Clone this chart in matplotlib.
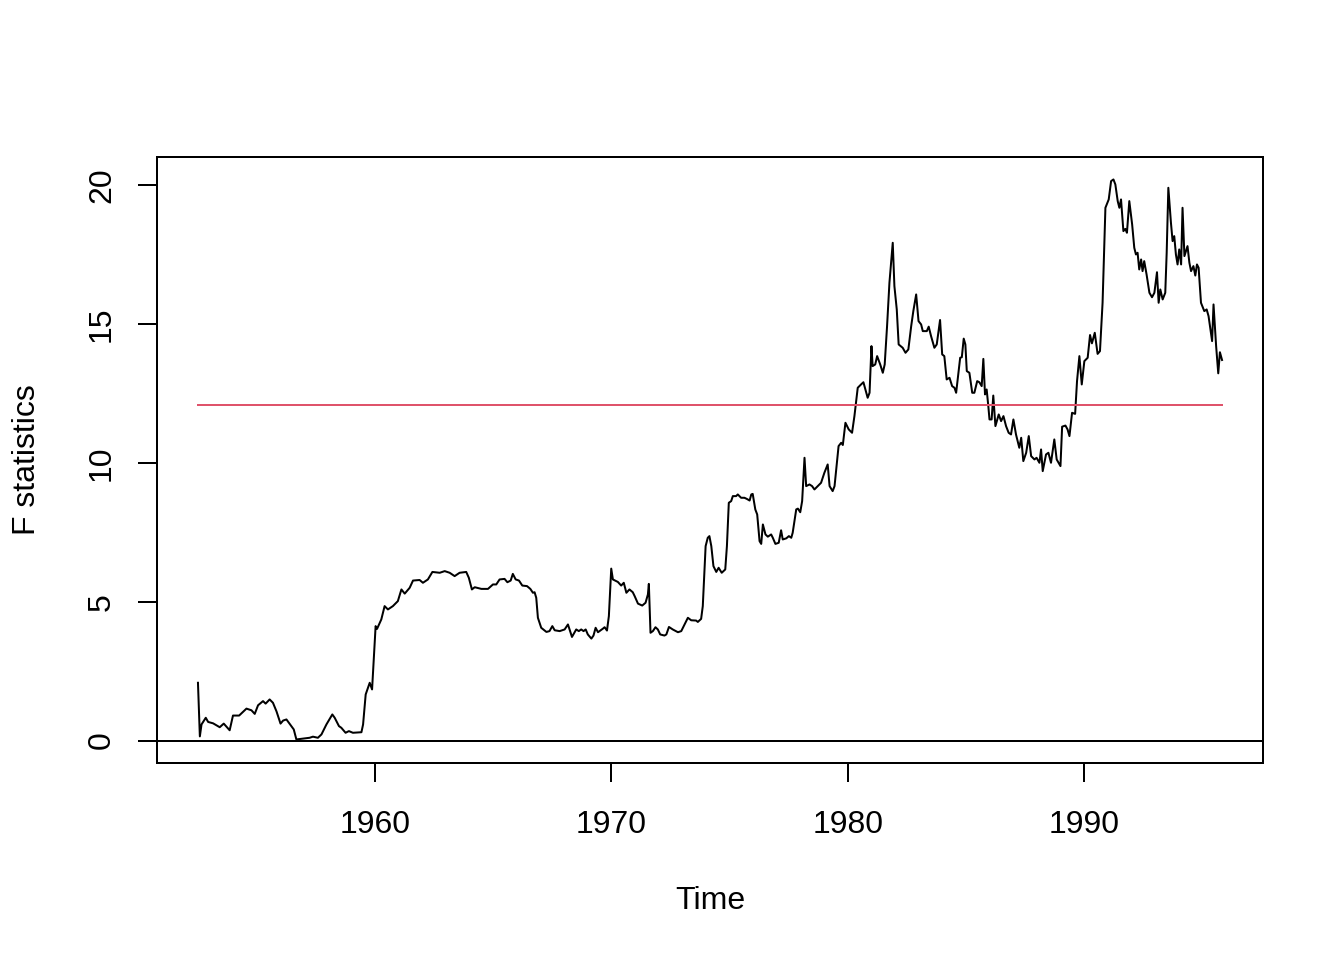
"""
F statistics over time with critical value line (R-style base plot)
"""
import matplotlib
matplotlib.use("Agg")
import matplotlib.pyplot as plt
import numpy as np

plt.rcParams['font.family'] = ['Liberation Sans', 'DejaVu Sans']

# time (decimal year) and F statistic
time = [
    1952.53, 1952.61, 1952.68, 1952.86, 1952.96, 1953.17, 1953.45, 1953.62, 1953.87, 1954.01,
    1954.27, 1954.58, 1954.79, 1954.93, 1955.07, 1955.28, 1955.39, 1955.56, 1955.70, 1955.85,
    1956.02, 1956.13, 1956.27, 1956.41, 1956.58, 1956.69, 1956.97, 1957.25, 1957.39, 1957.60,
    1957.75, 1957.96, 1958.21, 1958.31, 1958.49, 1958.59, 1958.77, 1958.91, 1959.08, 1959.44,
    1959.51, 1959.62, 1959.79, 1959.89, 1960.04, 1960.10, 1960.28, 1960.42, 1960.56, 1960.77,
    1960.98, 1961.13, 1961.27, 1961.48, 1961.62, 1961.90, 1962.04, 1962.25, 1962.44, 1962.75,
    1962.96, 1963.17, 1963.38, 1963.59, 1963.87, 1963.98, 1964.11, 1964.23, 1964.51, 1964.79,
    1965.00, 1965.14, 1965.28, 1965.49, 1965.61, 1965.75, 1965.84, 1965.96, 1966.10, 1966.24,
    1966.44, 1966.58, 1966.69, 1966.76, 1966.83, 1966.90, 1967.04, 1967.26, 1967.39, 1967.51,
    1967.61, 1967.82, 1968.03, 1968.17, 1968.34, 1968.45, 1968.52, 1968.63, 1968.73, 1968.83,
    1968.92, 1969.01, 1969.16, 1969.25, 1969.34, 1969.44, 1969.65, 1969.72, 1969.82, 1969.90,
    1970.00, 1970.07, 1970.28, 1970.42, 1970.53, 1970.64, 1970.77, 1970.91, 1970.99, 1971.13,
    1971.31, 1971.45, 1971.55, 1971.59, 1971.66, 1971.76, 1971.87, 1971.97, 1972.07, 1972.25,
    1972.33, 1972.44, 1972.60, 1972.82, 1972.96, 1973.10, 1973.24, 1973.38, 1973.59, 1973.66,
    1973.80, 1973.87, 1973.99, 1974.08, 1974.15, 1974.23, 1974.32, 1974.44, 1974.54, 1974.67,
    1974.82, 1974.89, 1974.97, 1975.07, 1975.14, 1975.28, 1975.35, 1975.49, 1975.63, 1975.73,
    1975.85, 1975.92, 1975.98, 1976.09, 1976.17, 1976.27, 1976.34, 1976.41, 1976.52, 1976.62,
    1976.76, 1976.83, 1976.94, 1977.08, 1977.18, 1977.25, 1977.40, 1977.51, 1977.61, 1977.67,
    1977.82, 1977.89, 1977.99, 1978.07, 1978.17, 1978.24, 1978.38, 1978.49, 1978.59, 1978.73,
    1978.87, 1979.01, 1979.15, 1979.23, 1979.36, 1979.44, 1979.61, 1979.72, 1979.79, 1979.90,
    1980.04, 1980.18, 1980.28, 1980.42, 1980.56, 1980.66, 1980.84, 1980.92, 1981.00, 1981.05,
    1981.16, 1981.24, 1981.37, 1981.48, 1981.56, 1981.66, 1981.76, 1981.90, 1981.97, 1982.07,
    1982.15, 1982.32, 1982.44, 1982.56, 1982.68, 1982.77, 1982.89, 1982.99, 1983.10, 1983.17,
    1983.34, 1983.42, 1983.52, 1983.66, 1983.76, 1983.90, 1983.99, 1984.08, 1984.18, 1984.30,
    1984.41, 1984.51, 1984.58, 1984.75, 1984.82, 1984.90, 1984.97, 1985.03, 1985.14, 1985.26,
    1985.35, 1985.47, 1985.56, 1985.66, 1985.73, 1985.80, 1985.87, 1985.94, 1985.99, 1986.08,
    1986.15, 1986.24, 1986.38, 1986.48, 1986.58, 1986.69, 1986.80, 1986.90, 1987.00, 1987.11,
    1987.25, 1987.33, 1987.42, 1987.54, 1987.65, 1987.75, 1987.89, 1987.98, 1988.10, 1988.17,
    1988.24, 1988.38, 1988.48, 1988.59, 1988.73, 1988.83, 1988.99, 1989.06, 1989.20, 1989.29,
    1989.37, 1989.48, 1989.61, 1989.69, 1989.79, 1989.89, 1990.00, 1990.14, 1990.24, 1990.32,
    1990.44, 1990.56, 1990.66, 1990.77, 1990.89, 1991.03, 1991.13, 1991.23, 1991.31, 1991.41,
    1991.48, 1991.55, 1991.65, 1991.73, 1991.80, 1991.90, 1992.02, 1992.11, 1992.18, 1992.25,
    1992.32, 1992.40, 1992.46, 1992.53, 1992.63, 1992.75, 1992.86, 1992.96, 1993.07, 1993.14,
    1993.21, 1993.31, 1993.42, 1993.48, 1993.55, 1993.66, 1993.73, 1993.80, 1993.87, 1993.94,
    1994.01, 1994.09, 1994.15, 1994.23, 1994.36, 1994.44, 1994.51, 1994.61, 1994.69, 1994.76,
    1994.83, 1994.93, 1995.07, 1995.17, 1995.25, 1995.35, 1995.40, 1995.46, 1995.57, 1995.66,
    1995.73, 1995.82,
]
fstats = [
    2.08, 0.15, 0.58, 0.82, 0.67, 0.62, 0.48, 0.61, 0.37, 0.90,
    0.90, 1.15, 1.09, 0.96, 1.27, 1.42, 1.33, 1.48, 1.36, 1.05,
    0.61, 0.72, 0.76, 0.60, 0.40, 0.04, 0.07, 0.10, 0.14, 0.10,
    0.22, 0.58, 0.94, 0.82, 0.52, 0.46, 0.28, 0.34, 0.28, 0.30,
    0.58, 1.66, 2.08, 1.84, 4.12, 4.02, 4.36, 4.84, 4.72, 4.84,
    5.02, 5.44, 5.29, 5.50, 5.76, 5.78, 5.68, 5.80, 6.07, 6.04,
    6.10, 6.04, 5.92, 6.04, 6.07, 5.86, 5.44, 5.52, 5.46, 5.46,
    5.62, 5.62, 5.80, 5.82, 5.70, 5.76, 6.00, 5.80, 5.76, 5.58,
    5.56, 5.46, 5.32, 5.34, 5.14, 4.42, 4.06, 3.91, 3.94, 4.12,
    3.97, 3.94, 4.00, 4.18, 3.73, 3.90, 4.00, 3.94, 4.00, 3.94,
    4.00, 3.82, 3.67, 3.78, 4.06, 3.90, 4.03, 4.08, 3.96, 4.48,
    6.19, 5.80, 5.71, 5.58, 5.68, 5.32, 5.44, 5.34, 5.20, 4.93,
    4.86, 4.96, 5.26, 5.64, 3.88, 3.94, 4.08, 4.00, 3.82, 3.78,
    3.82, 4.09, 4.00, 3.90, 3.94, 4.18, 4.42, 4.33, 4.32, 4.27,
    4.38, 4.84, 7.00, 7.30, 7.36, 7.00, 6.28, 6.07, 6.22, 6.04,
    6.16, 7.00, 8.56, 8.62, 8.80, 8.80, 8.86, 8.74, 8.74, 8.70,
    8.64, 8.86, 8.88, 8.32, 8.14, 7.18, 7.08, 7.78, 7.42, 7.34,
    7.42, 7.30, 7.08, 7.12, 7.57, 7.24, 7.28, 7.36, 7.30, 7.48,
    8.32, 8.35, 8.22, 8.62, 10.18, 9.16, 9.22, 9.16, 9.04, 9.16,
    9.28, 9.64, 9.94, 9.16, 8.98, 9.16, 10.60, 10.72, 10.64, 11.44,
    11.20, 11.08, 11.68, 12.70, 12.82, 12.90, 12.34, 12.52, 14.20, 13.48,
    13.54, 13.84, 13.54, 13.24, 13.54, 14.92, 16.48, 17.92, 16.36, 15.52,
    14.26, 14.14, 13.96, 14.08, 14.92, 15.46, 16.06, 15.10, 14.98, 14.74,
    14.74, 14.90, 14.56, 14.14, 14.26, 15.14, 13.90, 13.84, 13.00, 13.06,
    12.76, 12.70, 12.52, 13.78, 13.80, 14.47, 14.26, 13.30, 13.24, 12.52,
    12.52, 12.94, 12.90, 12.76, 13.74, 12.46, 12.64, 12.04, 11.56, 11.56,
    12.42, 11.32, 11.74, 11.50, 11.68, 11.32, 11.08, 11.02, 11.56, 11.02,
    10.54, 10.90, 10.06, 10.36, 10.96, 10.24, 10.12, 10.18, 10.00, 10.48,
    9.70, 10.30, 10.36, 10.00, 10.84, 10.12, 9.88, 11.30, 11.34, 11.20,
    10.96, 11.80, 11.76, 12.94, 13.84, 12.82, 13.66, 13.78, 14.60, 14.30,
    14.68, 13.92, 14.02, 15.76, 19.18, 19.48, 20.14, 20.20, 20.02, 19.42,
    19.18, 19.48, 18.34, 18.42, 18.28, 19.42, 18.58, 17.74, 17.50, 17.56,
    16.96, 17.32, 16.90, 17.26, 16.78, 16.12, 15.96, 16.12, 16.86, 15.76,
    16.24, 15.88, 16.12, 17.56, 19.90, 18.64, 17.98, 18.16, 17.50, 17.14,
    17.68, 17.14, 19.18, 17.44, 17.80, 17.20, 16.90, 17.08, 16.74, 17.14,
    17.02, 15.76, 15.46, 15.52, 15.28, 14.68, 14.38, 15.70, 14.20, 13.22,
    13.98, 13.70,
]
crit_value = 12.07
x_ticks = [1960, 1970, 1980, 1990]
y_ticks = [0, 5, 10, 15, 20]

time = np.array(time)
fstats = np.array(fstats)

fig = plt.figure(figsize=(7, 5), dpi=192)
ax = fig.add_axes([157 / 1344, 1 - 763 / 960, (1263 - 157) / 1344, (763 - 157) / 960])

ax.plot(time, fstats, color='black', linewidth=0.75)
ax.axhline(0, color='black', linewidth=0.75)
ax.plot([time[0], time[-1]], [crit_value, crit_value], color='#DF536B', linewidth=0.75)

# R style 4% padding
xr = time[-1] - time[0]
ax.set_xlim(time[0] - 0.04 * xr, time[-1] + 0.04 * xr)
yr = fstats.max() - 0
ax.set_ylim(0 - 0.04 * yr, fstats.max() + 0.04 * yr)

ax.set_xticks(x_ticks)
ax.set_yticks(y_ticks)
ax.set_xticklabels([str(t) for t in x_ticks])
ax.set_yticklabels([str(t) for t in y_ticks], rotation=90, va='center')
ax.tick_params(direction='out', length=7.2, width=0.75, labelsize=12)
ax.tick_params(axis='x', pad=10.3)
ax.tick_params(axis='y', pad=7.8)
for s in ax.spines.values():
    s.set_linewidth(0.75)

ax.set_xlabel('Time', fontsize=12, labelpad=17.5)
ax.set_ylabel('F statistics', fontsize=12, labelpad=17)

fig.savefig('out.png', dpi=192)
